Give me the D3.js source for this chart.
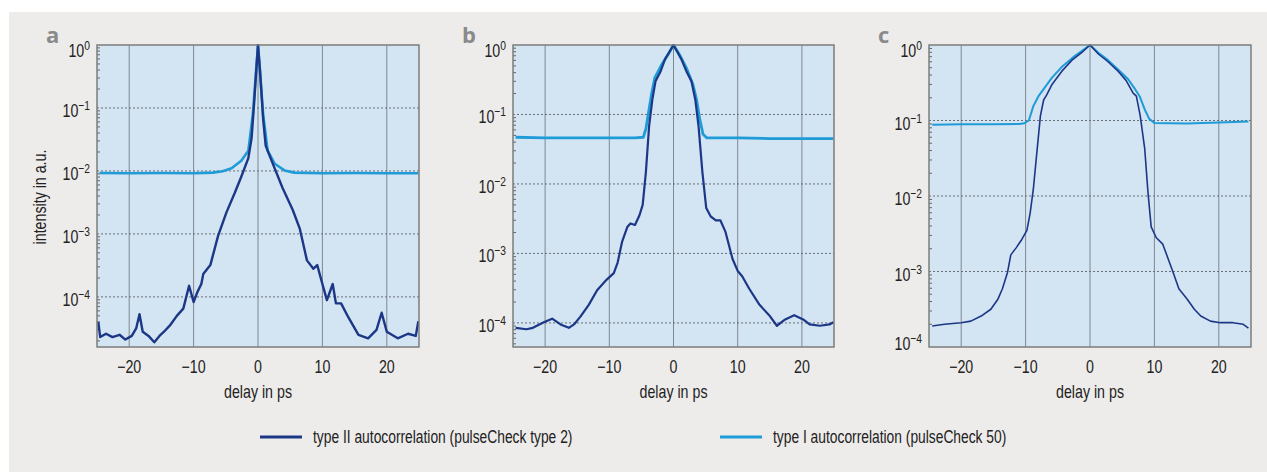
<!DOCTYPE html>
<html>
<head>
<meta charset="utf-8">
<script src="https://cdn.jsdelivr.net/npm/d3@7"></script>
<style>
body { margin: 0; background: #fff; }
svg { display: block; font-family: "Liberation Sans", Arial, sans-serif; }
</style>
</head>
<body>
<svg id="chart" width="1267" height="472"></svg>
<script>
// delay in ps / intensity in a.u.

// panel a
const aDelayII = [-24.8, -24.5, -23.6, -22.6, -21.5, -20.6, -19.6, -18.9, -18.4, -17.9, -17.0, -16.1, -15.3, -14.6, -13.6, -12.6, -11.6, -10.7, -10.0, -9.4, -8.8, -8.5, -7.4, -6.2, -4.9, -3.6, -2.6, -1.5, -1.0, -0.6, -0.26, 0, 0.3, 0.8, 1.2, 2.2, 3.8, 5.4, 6.5, 7.6, 8.6, 9.2, 10.0, 10.7, 11.6, 12.1, 12.9, 14.0, 15.6, 17.1, 18.4, 19.2, 20.0, 21.7, 23.3, 24.5, 24.9]
const aTypeII = [4.0e-5, 2.3e-5, 2.6e-5, 2.3e-5, 2.5e-5, 2.1e-5, 2.4e-5, 3.2e-5, 5.3e-5, 2.8e-5, 2.4e-5, 1.9e-5, 2.4e-5, 2.8e-5, 3.6e-5, 5.0e-5, 6.5e-5, 1.5e-4, 8.3e-5, 1.2e-4, 1.6e-4, 2.3e-4, 3.2e-4, 9.3e-4, 2.2e-3, 4.5e-3, 8.1e-3, 0.016, 0.033, 0.12, 0.41, 1, 0.41, 0.066, 0.025, 0.0138, 5.4e-3, 2.4e-3, 1.2e-3, 3.8e-4, 2.8e-4, 3.2e-4, 1.6e-4, 8.9e-5, 1.6e-4, 7.9e-5, 7.9e-5, 4.8e-5, 2.5e-5, 2.2e-5, 3.0e-5, 5.6e-5, 2.8e-5, 2.2e-5, 2.6e-5, 2.4e-5, 4.1e-5]
const aDelayI = [-24.6, -20, -15, -10, -7, -5.5, -4.1, -2.6, -1.5, -0.8, 0, 0.8, 1.5, 2.6, 4.1, 5.6, 10, 15, 20, 24.9]
const aTypeI = [0.0093, 0.0092, 0.0093, 0.0092, 0.0094, 0.0099, 0.011, 0.0145, 0.021, 0.08, 1, 0.08, 0.021, 0.013, 0.0102, 0.0094, 0.0092, 0.0093, 0.0092, 0.0092]

// panel b
const bDelayII = [-24.6, -22.9, -21.9, -20.2, -18.9, -17.6, -16.3, -15.5, -14.5, -13.2, -11.9, -10.4, -9.3, -8.7, -8.0, -7.2, -6.7, -6.0, -5.3, -4.8, -4.3, -3.8, -3.3, -2.8, -2.0, -1.3, 0, 1.2, 2.0, 2.8, 3.4, 3.9, 4.5, 5.1, 5.8, 6.6, 7.3, 8.1, 9.2, 10.0, 10.7, 11.8, 13.4, 14.9, 16.1, 17.4, 18.8, 20.2, 21.2, 22.8, 24.3, 24.9]
const bTypeII = [8.5e-5, 8.1e-5, 8.5e-5, 1.02e-4, 1.15e-4, 9.5e-5, 8.5e-5, 9.5e-5, 1.23e-4, 1.82e-4, 2.95e-4, 4.2e-4, 5.2e-4, 7.4e-4, 1.48e-3, 2.4e-3, 2.7e-3, 2.57e-3, 3.55e-3, 5.0e-3, 0.0148, 0.068, 0.162, 0.30, 0.42, 0.63, 1, 0.63, 0.42, 0.30, 0.162, 0.068, 0.0148, 4.5e-3, 3.4e-3, 3.0e-3, 3.0e-3, 2.04e-3, 8.3e-4, 5.6e-4, 4.7e-4, 3.1e-4, 1.82e-4, 1.29e-4, 9.1e-5, 1.12e-4, 1.29e-4, 1.12e-4, 9.5e-5, 9.1e-5, 9.5e-5, 1.02e-4]
const bDelayI = [-24.6, -20, -15, -10, -6, -4.7, -4.3, -3.9, -3.4, -2.9, -1.9, -0.8, 0, 1, 2, 3, 3.6, 4.1, 4.6, 5.2, 10, 15, 20, 24.9]
const bTypeI = [0.047, 0.046, 0.046, 0.046, 0.046, 0.047, 0.062, 0.105, 0.2, 0.34, 0.51, 0.74, 1, 0.71, 0.47, 0.275, 0.162, 0.085, 0.052, 0.046, 0.046, 0.045, 0.045, 0.045]

// panel c
const cDelayII = [-24.5, -22.6, -20, -18.5, -16.9, -15.4, -14.3, -13.6, -12.8, -12.3, -11.5, -10.7, -9.8, -9.3, -8.8, -8.2, -7.7, -7.2, -6.7, -5.9, -4.4, -2.8, -1.3, 0, 1.3, 2.8, 4.4, 5.6, 6.7, 7.2, 7.8, 8.5, 9.0, 9.5, 10.3, 11.3, 12.1, 12.9, 13.8, 15.1, 16.2, 17.2, 18.7, 20.2, 22.2, 23.8, 24.6]
const cTypeII = [1.9e-4, 2.0e-4, 2.1e-4, 2.2e-4, 2.57e-4, 3.16e-4, 4.3e-4, 5.9e-4, 9.8e-4, 1.66e-3, 2.04e-3, 2.57e-3, 3.5e-3, 5.9e-3, 0.0123, 0.042, 0.115, 0.187, 0.22, 0.30, 0.447, 0.63, 0.79, 1, 0.76, 0.60, 0.447, 0.34, 0.23, 0.21, 0.115, 0.042, 0.0112, 3.9e-3, 2.8e-3, 2.3e-3, 1.5e-3, 9.8e-4, 5.9e-4, 4.3e-4, 3.16e-4, 2.57e-4, 2.2e-4, 2.1e-4, 2.1e-4, 2.0e-4, 1.78e-4]
const cDelayI = [-24.5, -20, -15, -11, -10.2, -9.5, -8.8, -8.0, -7.2, -5.9, -4.4, -2.6, -1.3, 0, 1.3, 2.8, 4.4, 5.9, 7.0, 7.7, 8.5, 9.2, 10, 15, 20, 24.6]
const cTypeI = [0.088, 0.089, 0.089, 0.09, 0.092, 0.1, 0.155, 0.21, 0.26, 0.37, 0.51, 0.69, 0.83, 1, 0.79, 0.63, 0.47, 0.355, 0.26, 0.21, 0.14, 0.105, 0.093, 0.091, 0.094, 0.097]

const xTicks = [-20, -10, 0, 10, 20]
const yExps = [0, -1, -2, -3, -4]
const panelLetters = ['a', 'b', 'c']
const legendLabels = ['type II autocorrelation (pulseCheck type 2)', 'type I autocorrelation (pulseCheck 50)']

const DARK = '#1c3786'
const LIGHT = '#1f9bd7'
const SQ = 0.79 // the original type is a condensed face, squeeze a normal one

// layout per panel (pixel boxes and log domain bottoms)
const panels = [
	{ letter: panelLetters[0], x0: 97, x1: 419, yMin: 1.6e-5, ii: [aDelayII, aTypeII], i: [aDelayI, aTypeI], lw: 2.4, lwI: 2.6 },
	{ letter: panelLetters[1], x0: 513, x1: 834, yMin: 4.5e-5, ii: [bDelayII, bTypeII], i: [bDelayI, bTypeI], lw: 2.2, lwI: 2.8 },
	{ letter: panelLetters[2], x0: 929, x1: 1251, yMin: 1e-4, ii: [cDelayII, cTypeII], i: [cDelayI, cTypeI], lw: 1.6, lwI: 2.0 },
]
const TOP = 45, BOTTOM = 347

const svg = d3.select('#chart')

svg.append('rect').attr('x', 9).attr('y', 12).attr('width', 1258).attr('height', 460).attr('fill', '#edecea')

const sup = e => e === 0 ? '0' : '\u2212' + Math.abs(e)
const at = (x, y) => `translate(${x},${y}) scale(${SQ},1)`

panels.forEach((p, pi) => {
	const x = d3.scaleLinear().domain([-25, 25]).range([p.x0, p.x1])
	const y = d3.scaleLog().domain([p.yMin, 1]).range([BOTTOM, TOP])
	const g = svg.append('g')

	g.append('rect')
		.attr('x', p.x0).attr('y', TOP)
		.attr('width', p.x1 - p.x0).attr('height', BOTTOM - TOP)
		.attr('fill', '#d3e4f3')

	// vertical grid
	g.selectAll('.vg').data(xTicks).join('line')
		.attr('x1', d => x(d)).attr('x2', d => x(d))
		.attr('y1', TOP).attr('y2', BOTTOM)
		.attr('stroke', '#7f8892').attr('stroke-width', 1)

	// horizontal dashed grid at decades
	g.selectAll('.hg').data(yExps.filter(e => e < 0 && Math.pow(10, e) > p.yMin * 1.01)).join('line')
		.attr('x1', p.x0).attr('x2', p.x1)
		.attr('y1', e => y(Math.pow(10, e))).attr('y2', e => y(Math.pow(10, e)))
		.attr('stroke', '#6a6f75').attr('stroke-width', 1).attr('stroke-dasharray', '2,2')

	// minor ticks on left
	const minors = []
	for (let e = -5; e < 0; e++)
		for (let m = 2; m <= 9; m++) {
			const v = m * Math.pow(10, e)
			if (v > p.yMin && v < 1) minors.push(v)
		}
	g.selectAll('.mt').data(minors).join('line')
		.attr('x1', p.x0).attr('x2', p.x0 + 3)
		.attr('y1', d => y(d)).attr('y2', d => y(d))
		.attr('stroke', '#666').attr('stroke-width', 1)

	const line = d3.line().x(d => x(d[0])).y(d => y(d[1]))
	const clipId = 'clip' + pi
	svg.append('clipPath').attr('id', clipId).append('rect')
		.attr('x', p.x0).attr('y', TOP - 1).attr('width', p.x1 - p.x0).attr('height', BOTTOM - TOP + 1)

	g.append('path')
		.datum(d3.zip(p.i[0], p.i[1]))
		.attr('d', line).attr('fill', 'none')
		.attr('stroke', LIGHT).attr('stroke-width', p.lwI).attr('stroke-linejoin', 'round')
		.attr('clip-path', `url(#${clipId})`)

	g.append('path')
		.datum(d3.zip(p.ii[0], p.ii[1]))
		.attr('d', line).attr('fill', 'none')
		.attr('stroke', DARK).attr('stroke-width', p.lw).attr('stroke-linejoin', 'round')
		.attr('clip-path', `url(#${clipId})`)

	// frame
	g.append('rect')
		.attr('x', p.x0).attr('y', TOP)
		.attr('width', p.x1 - p.x0).attr('height', BOTTOM - TOP)
		.attr('fill', 'none').attr('stroke', '#7c7c7c').attr('stroke-width', 1.5)

	// x tick labels
	g.selectAll('.xt').data(xTicks).join('text')
		.attr('transform', d => at(x(d), 373))
		.attr('text-anchor', 'middle').attr('font-size', 18).attr('fill', '#222')
		.text(d => d < 0 ? '\u2212' + Math.abs(d) : d)

	// y tick labels
	const yl = g.selectAll('.yt').data(yExps.filter(e => Math.pow(10, e) >= p.yMin * 0.99)).join('text')
		.attr('transform', e => at(p.x0 - 7, Math.max(TOP + 12, Math.min(BOTTOM + 3, y(Math.pow(10, e)) + 9))))
		.attr('text-anchor', 'end').attr('font-size', 18).attr('fill', '#222')
	yl.append('tspan').text('10')
	yl.append('tspan').attr('dy', -7).attr('font-size', 13).text(e => sup(e))

	g.append('text')
		.attr('transform', at((p.x0 + p.x1) / 2, 398))
		.attr('text-anchor', 'middle').attr('font-size', 18).attr('fill', '#222')
		.text('delay in ps')

	g.append('text')
		.attr('x', p.x0 - 51).attr('y', 43)
		.attr('font-size', 22).attr('font-weight', 'bold').attr('fill', '#8a8a8a')
		.attr('font-family', 'Open Sans, sans-serif')
		.text(p.letter)
})

svg.append('text')
	.attr('transform', `translate(46,197) rotate(-90) scale(${SQ},1)`)
	.attr('text-anchor', 'middle').attr('font-size', 18).attr('fill', '#222')
	.text('intensity in a.u.')

// legend
const legend = svg.append('g')
const legX = [260, 720]
const legColors = [DARK, LIGHT]
legendLabels.forEach((t, i) => {
	legend.append('line')
		.attr('x1', legX[i]).attr('x2', legX[i] + 42)
		.attr('y1', 437).attr('y2', 437)
		.attr('stroke', legColors[i]).attr('stroke-width', 3)
	legend.append('text')
		.attr('transform', at(legX[i] + 53, 443))
		.attr('font-size', 17.5).attr('fill', '#222')
		.text(t)
})
</script>
</body>
</html>
